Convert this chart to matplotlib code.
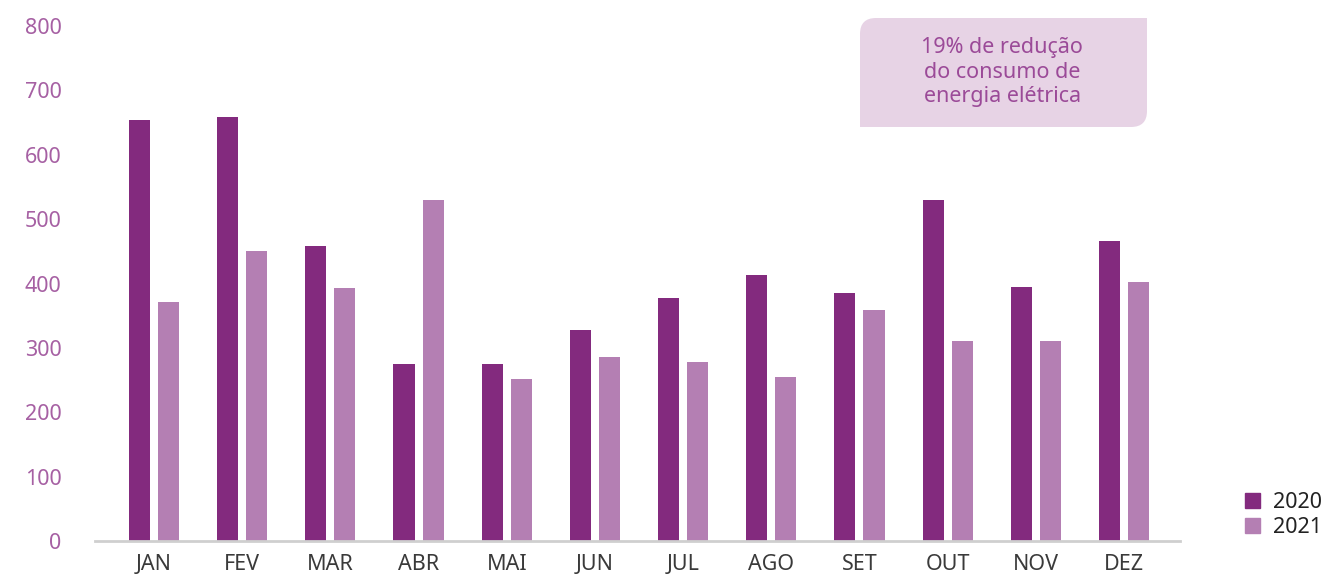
import numpy as np
import matplotlib
matplotlib.use("Agg")
from matplotlib import pyplot as plt
from matplotlib.path import Path
from matplotlib.patches import PathPatch, Patch

plt.rcParams['font.family'] = ['Noto Sans', 'DejaVu Sans']

# Monthly values
months = ["JAN", "FEV", "MAR", "ABR", "MAI", "JUN", "JUL", "AGO", "SET", "OUT", "NOV", "DEZ"]
values_2020 = [654, 658, 458, 275, 275, 328, 377, 413, 385, 530, 394, 466]
values_2021 = [371, 450, 393, 530, 252, 286, 278, 255, 359, 311, 311, 402]
series_labels = ["2020", "2021"]
y_ticks = [0, 100, 200, 300, 400, 500, 600, 700, 800]
note_text = "19% de redução\ndo consumo de\nenergia elétrica"

dark = "#832a7e"
light = "#b47fb3"

fig = plt.figure(figsize=(13.26, 5.77), dpi=100)
W, H = 1326, 577
ax = fig.add_axes([95 / W, 1 - 541 / H, (1180 - 95) / W, (541 - 26) / H])

x = np.arange(len(months))
w = 0.24
off = 0.165
ax.bar(x - off, values_2020, width=w, color=dark)
ax.bar(x + off, values_2021, width=w, color=light)

ax.set_xlim(-0.669, 11.635)
ax.set_ylim(0, 800)
ax.set_yticks(y_ticks)
ax.set_xticks(x)
ax.set_xticklabels(months)

for s in ["top", "right", "left"]:
    ax.spines[s].set_visible(False)
ax.spines["bottom"].set_color("#cfcfcf")
ax.spines["bottom"].set_linewidth(2)
ax.tick_params(axis="y", length=0, pad=24, labelsize=15.5, labelcolor="#a660a3")
ax.tick_params(axis="x", length=0, pad=9, labelsize=15.5, labelcolor="#3a3a3a")

# Note box with two rounded corners (top-left, bottom-right), in pixel coords
x0, x1 = 860 / W, 1147 / W
y1, y0 = 1 - 18 / H, 1 - 127 / H
rx, ry = 16 / W, 16 / H
verts = [
    (x0, y0), (x1 - rx, y0), (x1, y0), (x1, y0 + ry),
    (x1, y1), (x0 + rx, y1), (x0, y1), (x0, y1 - ry), (x0, y0),
]
codes = [Path.MOVETO, Path.LINETO, Path.CURVE3, Path.CURVE3,
         Path.LINETO, Path.LINETO, Path.CURVE3, Path.CURVE3, Path.CLOSEPOLY]
fig.patches.append(PathPatch(Path(verts, codes), transform=fig.transFigure,
                             facecolor="#e7d3e5", edgecolor="none"))
fig.text((x0 + x1) / 2 - 0.001, 1 - 72 / H, note_text, ha="center", va="center",
         fontsize=15.5, color="#9b4a98", linespacing=1.22)

handles = [Patch(color=dark), Patch(color=light)]
fig.legend(handles, series_labels, loc="lower left",
           bbox_to_anchor=(1230 / W, 1 - 553 / H), frameon=False,
           fontsize=15.5, handlelength=0.7, handleheight=0.7,
           handletextpad=0.6, labelspacing=0.2, borderpad=0.2,
           labelcolor="#222222")

fig.savefig("out.png", dpi=100)
